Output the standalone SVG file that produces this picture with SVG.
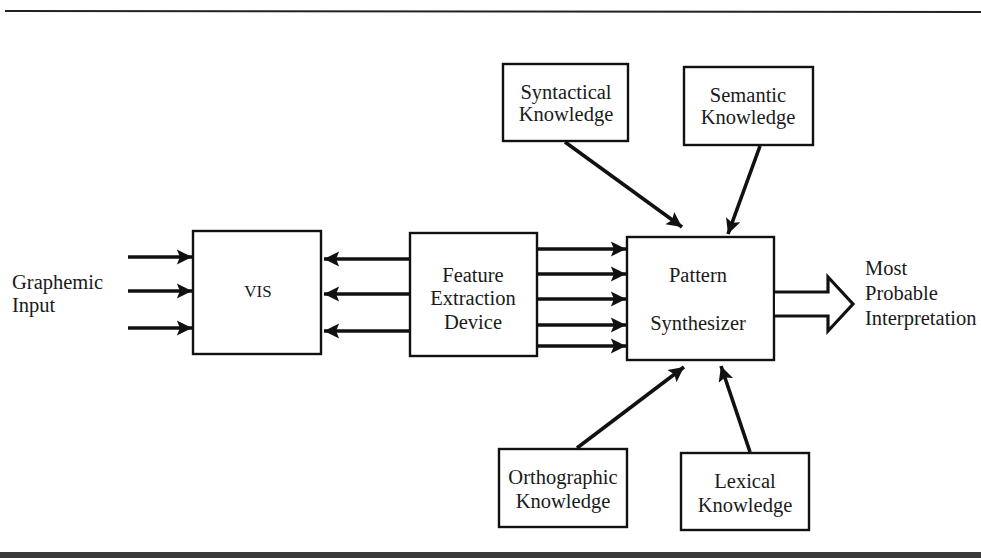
<svg xmlns="http://www.w3.org/2000/svg" width="981" height="558" viewBox="0 0 981 558">
<defs>
<style>
.box{fill:#fff;stroke:#111;stroke-width:2.4}
.t{font-family:"Liberation Serif","Times New Roman",serif;font-size:20.5px;fill:#1a1a1a}
.c{text-anchor:middle}
.a{stroke:#111;stroke-width:3.6;fill:none;marker-end:url(#ah)}
</style>
<marker id="ah" viewBox="0 0 10 10" refX="10" refY="5" markerWidth="5.6" markerHeight="4.2" markerUnits="strokeWidth" orient="auto">
<path d="M0,0 L10,5 L0,10 L2,5 Z" fill="#111"/>
</marker>
</defs>
<rect width="981" height="558" fill="#fff"/>
<line x1="5" y1="11" x2="981" y2="12" stroke="#222" stroke-width="2"/>
<rect x="0" y="552" width="981" height="6" fill="#3a3a3a"/>

<g id="graphemic-input"><text class="t" x="12" y="289">Graphemic</text><text class="t" x="12" y="312">Input</text></g>
<g id="vis"><rect class="box" x="193" y="231" width="128" height="123"/><text class="t c" x="258" y="297" style="font-size:17px">VIS</text></g>
<g id="feature"><rect class="box" x="410" y="233" width="127" height="123"/><text class="t c" x="473" y="282">Feature</text><text class="t c" x="473" y="305">Extraction</text><text class="t c" x="473" y="329">Device</text></g>
<g id="pattern"><rect class="box" x="627" y="237" width="147" height="123"/><text class="t c" x="698" y="282">Pattern</text><text class="t c" x="698" y="330">Synthesizer</text></g>
<g id="syntactical"><rect class="box" x="503" y="64" width="125" height="77"/><text class="t c" x="566" y="99">Syntactical</text><text class="t c" x="566" y="121">Knowledge</text></g>
<g id="semantic"><rect class="box" x="684" y="67" width="129" height="78"/><text class="t c" x="748" y="102">Semantic</text><text class="t c" x="748" y="124">Knowledge</text></g>
<g id="orthographic"><rect class="box" x="499" y="449" width="128" height="78"/><text class="t c" x="563" y="484">Orthographic</text><text class="t c" x="563" y="508">Knowledge</text></g>
<g id="lexical"><rect class="box" x="681" y="453" width="128" height="77"/><text class="t c" x="745" y="488">Lexical</text><text class="t c" x="745" y="512">Knowledge</text></g>
<g id="output"><text class="t" x="865" y="275">Most</text><text class="t" x="865" y="300">Probable</text><text class="t" x="865" y="325">Interpretation</text></g>

<g id="connectors">
<line class="a" x1="128" y1="257" x2="192" y2="257"/>
<line class="a" x1="128" y1="291" x2="192" y2="291"/>
<line class="a" x1="128" y1="328" x2="192" y2="328"/>
<line class="a" x1="409" y1="259" x2="324" y2="259"/>
<line class="a" x1="409" y1="294" x2="324" y2="294"/>
<line class="a" x1="409" y1="331" x2="324" y2="331"/>
<line class="a" x1="538" y1="249" x2="626" y2="249"/>
<line class="a" x1="538" y1="274" x2="626" y2="274"/>
<line class="a" x1="538" y1="299" x2="626" y2="299"/>
<line class="a" x1="538" y1="325" x2="626" y2="325"/>
<line class="a" x1="538" y1="346" x2="626" y2="346"/>
<line class="a" x1="565" y1="142" x2="682" y2="227"/>
<line class="a" x1="760" y1="146" x2="728" y2="234"/>
<line class="a" x1="577" y1="448" x2="684" y2="367"/>
<line class="a" x1="750" y1="452" x2="721" y2="366"/>
<path d="M775,292 H828 V277 L853,304 L828,331 V316 H775" fill="#fff" stroke="#111" stroke-width="3.2" stroke-linejoin="miter"/>
</g>
</svg>
